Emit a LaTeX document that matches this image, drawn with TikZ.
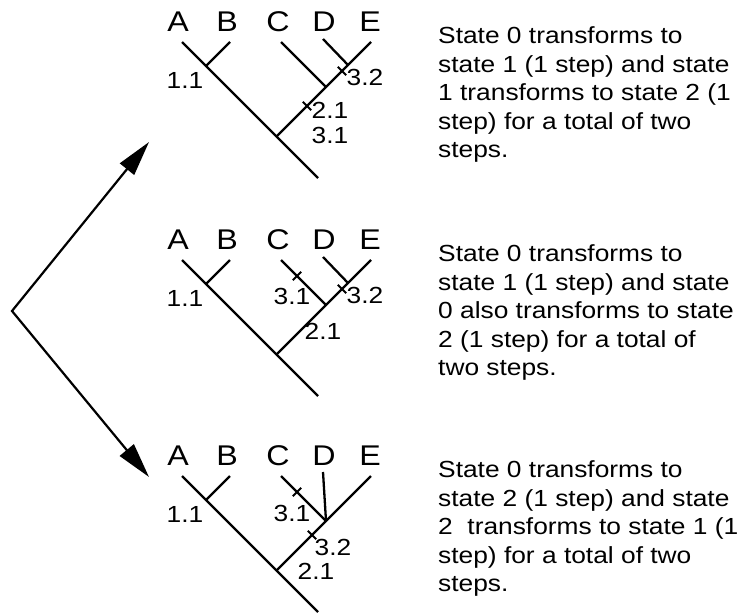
\documentclass[tikz,border=0pt]{standalone}
\usepackage{fontspec}
\setmainfont{Liberation Sans}
\usetikzlibrary{arrows.meta}
\newcommand{\hstretch}[1]{\scalebox{1.13}[1]{#1}}
\newcommand{\desctext}[1]{\hstretch{\begin{tabular}[t]{@{}l@{}}#1\end{tabular}}}
\newcommand{\commontree}[1]{%
  \coordinate (#1a) at (182,42);
  \coordinate (#1b) at (230,42);
  \coordinate (#1c) at (281,42);
  \coordinate (#1e) at (371,42);
  \coordinate (#1root) at (318,178);
  \coordinate (#1jab) at (206,66);
  \coordinate (#1jce) at (276.5,136.5);
  \coordinate (#1jc) at (326,87);
  \node[leaf] (#1A) at (178,31.5) {\hstretch{A}};
  \node[leaf] (#1B) at (227,31.5) {\hstretch{B}};
  \node[leaf] (#1C) at (278,31.5) {\hstretch{C}};
  \node[leaf] (#1D) at (324,31.5) {\hstretch{D}};
  \node[leaf] (#1E) at (370,31.5) {\hstretch{E}};
  \draw[br] (#1a) -- (#1root);
  \draw[br] (#1b) -- (#1jab);
  \draw[br] (#1e) -- (#1jce);
  \draw[br] (#1c) -- (#1jc);
  \node[num] (#1n11) at (185,80) {\hstretch{1.1}};
}
\begin{document}
\begin{tikzpicture}[x=1pt,y=-1pt,
  br/.style={line width=2.3pt},
  tk/.style={line width=1.8pt},
  leaf/.style={inner sep=0pt, anchor=base, font=\fontsize{28.5}{30}\selectfont},
  num/.style={inner sep=0pt, font=\fontsize{23.3}{26}\selectfont},
  desc/.style={inner sep=0pt, anchor=base west, font=\fontsize{23.3}{28.5}\selectfont},
  arr/.style={line width=2.2pt, miter limit=20, {Triangle[length=35pt,width=18pt]}-{Triangle[length=35pt,width=18pt]}}]
\useasboundingbox (0,0) rectangle (741,613);

% ---------- tree 1 ----------
\begin{scope}
  \commontree{p}
  \coordinate (pd) at (323,39);
  \coordinate (pjd) at (348,65);
  \draw[br] (pd) -- (pjd);
  \coordinate (pt32) at (342,71);
  \coordinate (pt21) at (307,106);
  \draw[tk] ([shift={(-4.2,-4.2)}]pt32) -- ([shift={(4.2,4.2)}]pt32);
  \draw[tk] ([shift={(-4.2,-4.2)}]pt21) -- ([shift={(4.2,4.2)}]pt21);
  \node[num] (pn32) at (365,77) {\hstretch{3.2}};
  \node[num] (pn21) at (330,110) {\hstretch{2.1}};
  \node[num] (pn31) at (330,135) {\hstretch{3.1}};
  \node[desc] (ptext) at (438,43.5) {\desctext{State 0 transforms to\\state 1 (1 step) and state\\1 transforms to state 2 (1\\step) for a total of two\\steps.}};
\end{scope}

% ---------- tree 2 ----------
\begin{scope}[shift={(0,218)}]
  \commontree{q}
  \coordinate (qd) at (323,39);
  \coordinate (qjd) at (348,65);
  \draw[br] (qd) -- (qjd);
  \coordinate (qt31) at (297,58);
  \coordinate (qt32) at (342,71);
  \draw[tk] ([shift={(-4.2,4.2)}]qt31) -- ([shift={(4.2,-4.2)}]qt31);
  \draw[tk] ([shift={(-4.2,-4.2)}]qt32) -- ([shift={(4.2,4.2)}]qt32);
  \node[num] (qn31) at (292,78) {\hstretch{3.1}};
  \node[num] (qn32) at (365,77) {\hstretch{3.2}};
  \node[num] (qn21) at (323,113) {\hstretch{2.1}};
  \node[desc] (qtext) at (438,43.5) {\desctext{State 0 transforms to\\state 1 (1 step) and state\\0 also transforms to state\\2 (1 step) for a total of\\two steps.}};
\end{scope}

% ---------- tree 3 ----------
\begin{scope}[shift={(0,434)}]
  \commontree{r}
  \coordinate (rd) at (323,38);
  \draw[br] (rd) -- (rjc);
  \coordinate (rt31) at (297,58);
  \coordinate (rt32) at (312,101);
  \draw[tk] ([shift={(-4.2,4.2)}]rt31) -- ([shift={(4.2,-4.2)}]rt31);
  \draw[tk] ([shift={(-4.2,-4.2)}]rt32) -- ([shift={(4.2,4.2)}]rt32);
  \node[num] (rn31) at (292,79) {\hstretch{3.1}};
  \node[num] (rn32) at (333,113) {\hstretch{3.2}};
  \node[num] (rn21) at (316,137) {\hstretch{2.1}};
  \node[desc] (rtext) at (438,43.5) {\desctext{State 0 transforms to\\state 2 (1 step) and state\\2\ \ transforms to state 1 (1\\step) for a total of two\\steps.}};
\end{scope}

% ---------- arrows ----------
\coordinate (vtx) at (12,311);
\coordinate (uptip) at (149,142);
\coordinate (downtip) at (149,477);
\draw[arr] (uptip) -- (vtx) -- (downtip);
\end{tikzpicture}
\end{document}
